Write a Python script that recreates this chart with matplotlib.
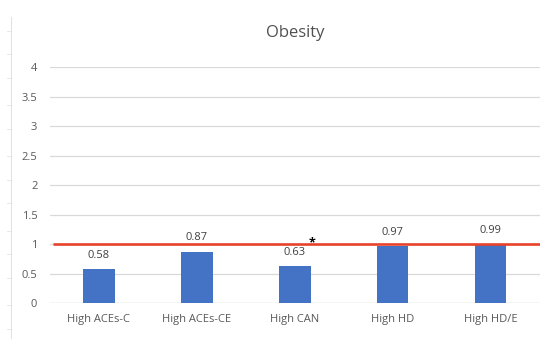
import matplotlib.pyplot as plt
from matplotlib.lines import Line2D

# Obesity odds ratios by exposure group
categories = ["High ACEs-C", "High ACEs-CE", "High CAN", "High HD", "High HD/E"]
values = [0.58, 0.87, 0.63, 0.97, 0.99]
value_labels = ["0.58", "0.87", "0.63", "0.97", "0.99"]
reference = 1.0
yticks = [0, 0.5, 1, 1.5, 2, 2.5, 3, 3.5, 4]
ytick_labels = ["0", "0.5", "1", "1.5", "2", "2.5", "3", "3.5", "4"]
starred = 2

plt.rcParams['font.family'] = ['Open Sans', 'DejaVu Sans']

fig = plt.figure(figsize=(5.48, 3.39), dpi=100)
ax = fig.add_axes([0.091, 0.106, 0.894, 0.696])

x = list(range(len(categories)))
ax.bar(x, values, width=0.32, color='#4472C4', zorder=3)

for xi, v, lab in zip(x, values, value_labels):
    ax.annotate(lab, (xi, v), xytext=(0, 6), textcoords='offset points',
                ha='center', va='bottom', fontsize=8, color='#404040')

# reference line at OR = 1
ax.plot([-0.47, 4.5], [reference, reference], color='#E8432A', lw=1.9, zorder=4,
        solid_capstyle='butt')
ax.text(starred + 0.18, reference + 0.02, "*", fontsize=9, color='black',
        ha='center', va='center', zorder=5, fontweight='bold')

ax.set_xlim(-0.5, 4.5)
ax.set_ylim(0, 4)
ax.set_yticks(yticks)
ax.set_yticklabels(ytick_labels)
ax.set_xticks(x)
ax.set_xticklabels(categories)
ax.tick_params(axis='both', length=0, labelsize=8, colors='#595959')
ax.tick_params(axis='x', pad=8)
ax.tick_params(axis='y', pad=9)
ax.grid(axis='y', color='#D9D9D9', lw=0.9, zorder=0)
for s in ax.spines.values():
    s.set_visible(False)
ax.axhline(0, color='#D9D9D9', lw=0.9, zorder=2)

ax.set_title("Obesity", fontsize=12, color='#505050', pad=22)

# faint page margin rule with small tick marks on the left
fig.add_artist(Line2D([0.02, 0.02], [0.0, 0.95], color='#E3E3E3', lw=0.8))
for ty in [0.91, 0.84, 0.77, 0.69, 0.62, 0.54, 0.47, 0.40, 0.32, 0.25, 0.18, 0.10, 0.03]:
    fig.add_artist(Line2D([0.013, 0.02], [ty, ty], color='#E3E3E3', lw=0.6))

fig.savefig("out.png", dpi=100, facecolor='white')
